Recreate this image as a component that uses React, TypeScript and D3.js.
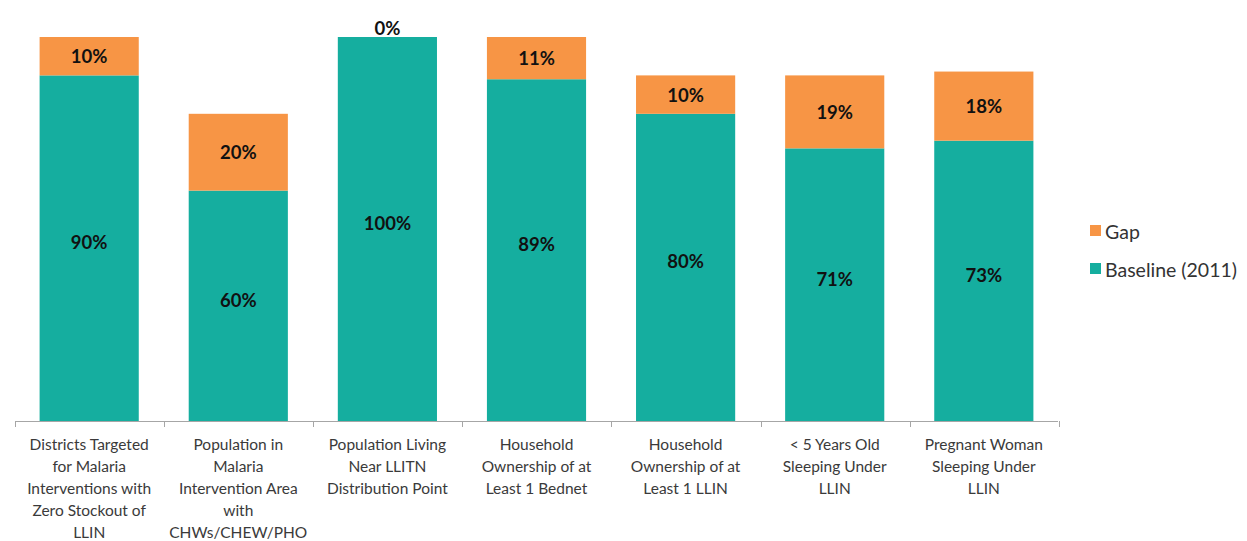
import React from "react";
import * as d3 from "d3";

const categories: string[][] = [
  ["Districts Targeted", "for Malaria", "Interventions with", "Zero Stockout of", "LLIN"],
  ["Population in", "Malaria", "Intervention Area", "with", "CHWs/CHEW/PHO"],
  ["Population Living", "Near LLITN", "Distribution Point"],
  ["Household", "Ownership of at", "Least 1 Bednet"],
  ["Household", "Ownership of at", "Least 1 LLIN"],
  ["< 5 Years Old", "Sleeping Under", "LLIN"],
  ["Pregnant Woman", "Sleeping Under", "LLIN"],
];
const baseline: number[] = [90, 60, 100, 89, 80, 71, 73];
const gap: number[] = [10, 20, 0, 11, 10, 19, 18];
const seriesNames = ["Gap", "Baseline (2011)"];

const W = 1247;
const H = 541;
const TEAL = "#15AE9F";
const ORANGE = "#F79545";
const FONT = "Lato, 'Open Sans', sans-serif";

export default function App() {
  const ids = categories.map((_, i) => String(i));
  const x = d3.scaleBand<string>().domain(ids).range([15, 1058]).paddingInner(0.335).paddingOuter(0.165);
  const y = d3.scaleLinear().domain([0, 100]).range([421, 37]);
  const step = x.step();

  return (
    <svg width={W} height={H} style={{ position: "absolute", left: 0, top: 0, background: "#fff" }}>
      {ids.map((id, i) => {
        const bx = x(id)!;
        const bw = x.bandwidth();
        const b = baseline[i];
        const g = gap[i];
        const cx = bx + bw / 2;
        return (
          <g key={id}>
            <rect x={bx} y={y(b)} width={bw} height={y(0) - y(b)} fill={TEAL} />
            {g > 0 && <rect x={bx} y={y(b + g)} width={bw} height={y(b) - y(b + g)} fill={ORANGE} />}
            <text x={cx} y={(y(0) + y(b)) / 2 - 6} textAnchor="middle" dominantBaseline="central"
              fontFamily={FONT} fontWeight="bold" fontSize={18.5} fill="#111">{b}%</text>
            <text x={cx} y={g > 0 ? (y(b) + y(b + g)) / 2 : y(b + g) - 9} textAnchor="middle" dominantBaseline="central"
              fontFamily={FONT} fontWeight="bold" fontSize={18.5} fill="#111">{g}%</text>
          </g>
        );
      })}
      <line x1={15} x2={1058} y1={421.5} y2={421.5} stroke="#a6a6a6" strokeWidth={1} />
      {d3.range(ids.length + 1).map((k) => {
        const tx = Math.round(15 + k * step) + 0.5;
        return <line key={k} x1={tx} x2={tx} y1={421} y2={427} stroke="#a6a6a6" strokeWidth={1} />;
      })}
      {categories.map((lines, i) => {
        const cx = x(String(i))! + x.bandwidth() / 2;
        return (
          <text key={i} textAnchor="middle" fontFamily={FONT} fontSize={15.5} fill="#3a3a3a">
            {lines.map((l, j) => (
              <tspan key={j} x={cx} y={450 + j * 22}>{l}</tspan>
            ))}
          </text>
        );
      })}
      {seriesNames.map((name, i) => {
        const ly = 231 + i * 38;
        return (
          <g key={name}>
            <rect x={1090} y={ly - 6} width={11} height={11} fill={i === 0 ? ORANGE : TEAL} />
            <text x={1105} y={ly} dominantBaseline="central" fontFamily={FONT} fontSize={19.5} fill="#333">{name}</text>
          </g>
        );
      })}
    </svg>
  );
}
